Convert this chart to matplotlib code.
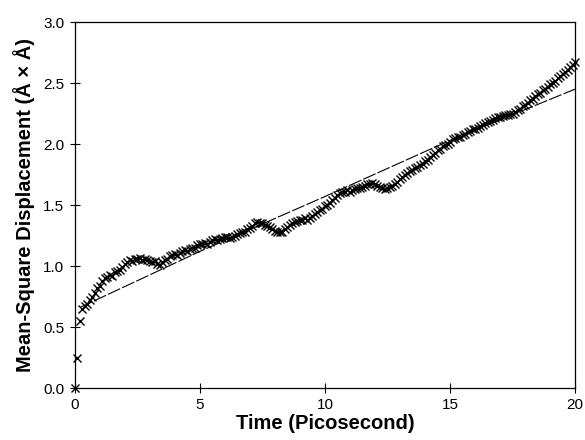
import numpy as np
import matplotlib
matplotlib.use("Agg")
import matplotlib.pyplot as plt

plt.rcParams['font.family'] = ['Liberation Sans', 'DejaVu Sans']

# Time grid (ps), 0.1 ps step
time_ps = np.linspace(0, 20, 201)

msd = [
    0.00, 0.25, 0.55, 0.65, 0.67, 0.69, 0.72, 0.75, 0.78, 0.82,
    0.84, 0.88, 0.90, 0.91, 0.93, 0.92, 0.95, 0.96, 0.97, 0.99,
    1.02, 1.03, 1.05, 1.04, 1.06, 1.06, 1.07, 1.05, 1.06, 1.05,
    1.04, 1.03, 1.04, 1.02, 1.01, 1.03, 1.05, 1.06, 1.08, 1.09,
    1.10, 1.09, 1.11, 1.12, 1.13, 1.12, 1.14, 1.15, 1.15, 1.17,
    1.18, 1.18, 1.19, 1.18, 1.20, 1.21, 1.22, 1.21, 1.22, 1.23,
    1.24, 1.24, 1.23, 1.24, 1.25, 1.26, 1.27, 1.28, 1.28, 1.30,
    1.31, 1.33, 1.35, 1.36, 1.35, 1.35, 1.34, 1.33, 1.32, 1.30,
    1.29, 1.28, 1.28, 1.28, 1.30, 1.32, 1.34, 1.35, 1.36, 1.37,
    1.38, 1.38, 1.39, 1.38, 1.39, 1.41, 1.43, 1.44, 1.46, 1.47,
    1.49, 1.50, 1.52, 1.54, 1.56, 1.58, 1.60, 1.61, 1.61, 1.62,
    1.61, 1.62, 1.63, 1.64, 1.64, 1.65, 1.66, 1.67, 1.67, 1.68,
    1.67, 1.66, 1.65, 1.64, 1.63, 1.64, 1.645, 1.66, 1.67, 1.69,
    1.71, 1.73, 1.75, 1.76, 1.78, 1.79, 1.80, 1.81, 1.83, 1.84,
    1.86, 1.87, 1.89, 1.91, 1.93, 1.95, 1.96, 1.98, 1.99, 2.00,
    2.02, 2.04, 2.05, 2.06, 2.06, 2.07, 2.08, 2.10, 2.11, 2.12,
    2.12, 2.13, 2.15, 2.16, 2.17, 2.18, 2.19, 2.20, 2.21, 2.22,
    2.22, 2.23, 2.24, 2.24, 2.25, 2.25, 2.26, 2.28, 2.29, 2.31,
    2.32, 2.34, 2.36, 2.37, 2.39, 2.41, 2.42, 2.44, 2.455, 2.47,
    2.49, 2.50, 2.52, 2.54, 2.56, 2.57, 2.59, 2.61, 2.63, 2.65,
    2.67,
]

fit_t = [0.2, 5, 10, 15, 20]
fit_y = [0.66, 1.12, 1.57, 2.03, 2.45]

x_ticks = [0, 5, 10, 15, 20]
y_ticks = [0.0, 0.5, 1.0, 1.5, 2.0, 2.5, 3.0]

fig = plt.figure(figsize=(5.85, 4.4), dpi=100)
ax = fig.add_axes([0.128, 0.118, 0.855, 0.832])

ax.plot(fit_t, fit_y, color='black', lw=0.8, linestyle=(0, (12, 2)))
ax.plot(time_ps, msd, linestyle='none', marker='x', color='black',
        markersize=5.5, markeredgewidth=1.0, clip_on=False)

ax.set_xlim(0, 20)
ax.set_ylim(0, 3.0)
ax.set_xticks(x_ticks)
ax.set_xticklabels([str(v) for v in x_ticks])
ax.set_yticks(y_ticks)
ax.set_yticklabels([f"{v:.1f}" for v in y_ticks])
ax.tick_params(direction='inout', length=7, width=0.8, labelsize=11, colors='black')
ax.tick_params(axis='x', pad=4)
ax.tick_params(axis='y', pad=4)
for s in ax.spines.values():
    s.set_linewidth(0.9)
    s.set_color('black')

ax.set_xlabel('Time (Picosecond)', fontsize=14.5, fontweight='bold', labelpad=1)
ax.set_ylabel('Mean-Square Displacement (Å × Å)', fontsize=14.5, fontweight='bold', labelpad=6)

fig.savefig('out.png', dpi=100)
